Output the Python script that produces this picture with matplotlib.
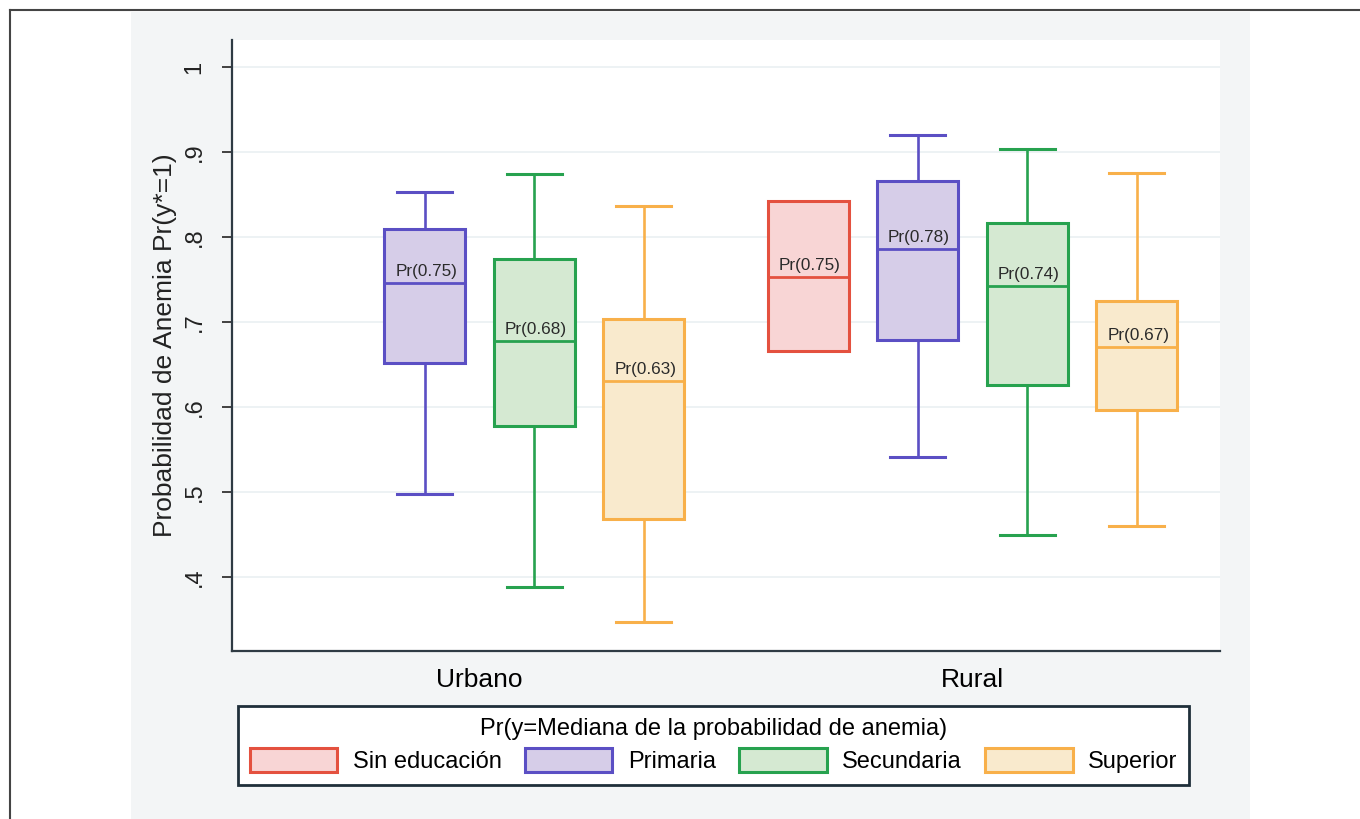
import matplotlib
matplotlib.use("Agg")
import matplotlib.pyplot as plt
from matplotlib.patches import Patch, Rectangle
from matplotlib.lines import Line2D

plt.rcParams["font.family"] = ["Liberation Sans", "DejaVu Sans"]

# datos
zonas = ["Urbano", "Rural"]
niveles = ["Sin educación", "Primaria", "Secundaria", "Superior"]

zona = ["Urbano", "Urbano", "Urbano", "Rural", "Rural", "Rural", "Rural"]
nivel = ["Primaria", "Secundaria", "Superior",
         "Sin educación", "Primaria", "Secundaria", "Superior"]
bigote_inf = [0.498, 0.388, 0.347, 0.666, 0.541, 0.449, 0.460]
q1 = [0.652, 0.578, 0.468, 0.666, 0.679, 0.626, 0.596]
mediana = [0.746, 0.678, 0.631, 0.753, 0.786, 0.742, 0.671]
q3 = [0.810, 0.774, 0.704, 0.842, 0.866, 0.817, 0.725]
bigote_sup = [0.853, 0.874, 0.836, 0.842, 0.920, 0.903, 0.875]
etiqueta = [0.75, 0.68, 0.63, 0.75, 0.78, 0.74, 0.67]

yticks = [0.4, 0.5, 0.6, 0.7, 0.8, 0.9, 1.0]
ytick_labels = [".4", ".5", ".6", ".7", ".8", ".9", "1"]

borde = {"Sin educación": "#e4513f", "Primaria": "#5b4fc4",
         "Secundaria": "#27a24f", "Superior": "#f8b04a"}
relleno = {"Sin educación": "#f8d5d5", "Primaria": "#d6cde8",
           "Secundaria": "#d5e9d2", "Superior": "#f9eacd"}

W, H = 1360, 819
fig = plt.figure(figsize=(W / 100, H / 100), dpi=100)

# fondo gris y marco exterior
fig.patches.append(Rectangle((131 / W, 0), (1250 - 131) / W, 1 - 12 / H,
                             transform=fig.transFigure, facecolor="#f3f5f6",
                             edgecolor="none", zorder=-5))
fig.lines.append(Line2D([10 / W, 1], [1 - 10 / H, 1 - 10 / H],
                        transform=fig.transFigure, color="#444444", lw=1.5))
fig.lines.append(Line2D([10 / W, 10 / W], [0, 1 - 10 / H],
                        transform=fig.transFigure, color="#444444", lw=1.5))

ax = fig.add_axes([232 / W, 1 - 651 / H, (1220 - 232) / W, (651 - 40) / H])
ax.set_facecolor("white")

stats = []
posiciones = []
for i in range(len(zona)):
    stats.append({"whislo": bigote_inf[i], "q1": q1[i], "med": mediana[i],
                  "q3": q3[i], "whishi": bigote_sup[i]})
    posiciones.append(zonas.index(zona[i]) * 4.5 + niveles.index(nivel[i]))

res = ax.bxp(stats, positions=posiciones, widths=0.74, showfliers=False,
             patch_artist=True, capwidths=0.5)
for i, caja in enumerate(res["boxes"]):
    c = borde[nivel[i]]
    caja.set_facecolor(relleno[nivel[i]])
    caja.set_edgecolor(c)
    caja.set_linewidth(2.2)
    res["medians"][i].set_color(c)
    res["medians"][i].set_linewidth(2.0)
    for k in (2 * i, 2 * i + 1):
        res["whiskers"][k].set_color(c)
        res["whiskers"][k].set_linewidth(1.9)
        res["caps"][k].set_color(c)
        res["caps"][k].set_linewidth(2.2)
        if bigote_inf[i] == q1[i] and bigote_sup[i] == q3[i]:
            res["caps"][k].set_visible(False)
            res["whiskers"][k].set_visible(False)
    ax.annotate(f"Pr({etiqueta[i]:.2f})", (posiciones[i], mediana[i]),
                xytext=(1, 5), textcoords="offset points", ha="center",
                va="baseline", fontsize=12.3, color="#2a2a2a")

ax.set_xlim(-0.76, 8.26)
ax.set_ylim(0.3129, 1.0318)
ax.set_yticks(yticks)
ax.set_yticklabels(ytick_labels, rotation=90, va="center", fontsize=17)
ax.set_xticks([1.5, 6])
ax.set_xticklabels(zonas, fontsize=19)
ax.tick_params(axis="x", length=0, pad=12)
ax.tick_params(axis="y", length=7, width=1.3, pad=12, colors="#333333",
               labelcolor="#222222")
ax.set_ylabel("Probabilidad de Anemia Pr(y*=1)", fontsize=19, labelpad=5,
              color="#222222")
ax.grid(axis="y", color="#eaf0f2", lw=1.2)
ax.set_axisbelow(True)
for s in ("top", "right"):
    ax.spines[s].set_visible(False)
for s in ("left", "bottom"):
    ax.spines[s].set_color("#2f3b44")
    ax.spines[s].set_linewidth(1.6)

handles = [Patch(facecolor=relleno[n], edgecolor=borde[n], lw=2.2) for n in niveles]
leg = fig.legend(handles, niveles, loc="upper left",
                 bbox_to_anchor=(238 / W, 1 - 706 / H), borderaxespad=0,
                 ncol=4, fontsize=17,
                 title="Pr(y=Mediana de la probabilidad de anemia)",
                 title_fontsize=17, frameon=True, fancybox=False, framealpha=1,
                 handlelength=3.7, handleheight=1.2, handletextpad=0.65,
                 columnspacing=1.0, borderpad=0.5, labelspacing=0.35)
leg.get_frame().set_edgecolor("#1f2f3a")
leg.get_frame().set_linewidth(2.0)
leg.get_frame().set_facecolor("white")

fig.savefig("out.png", dpi=100)
